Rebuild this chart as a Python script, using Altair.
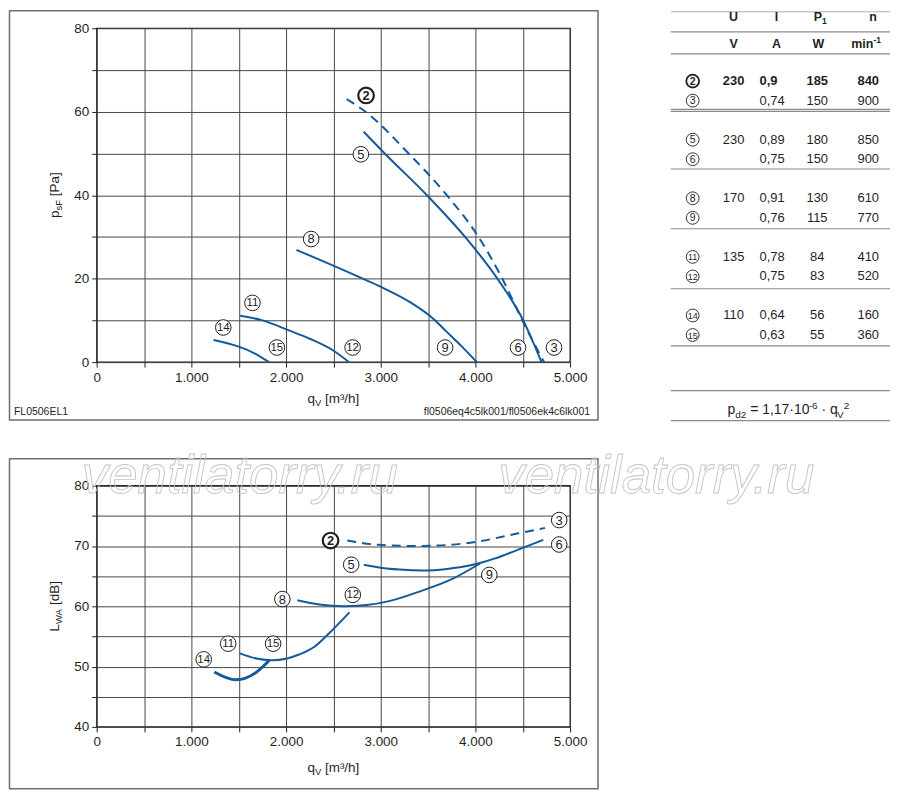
import altair as alt
import pandas as pd

FONT = "Liberation Sans"
BLUE = "#135a9b"
INK = "#1f1f1f"
GRIDC = "#474747"
BOXC = "#6f6f6f"
RULEC = "#8a8a8a"
WMARK = "#c4c4c4"

# ---------------- top panel: p_sF [Pa] vs q_V [m3/h] ----------------
top_2_q = [2640, 2839, 3295, 3698, 4032, 4284, 4495, 4725]
top_2_p = [63.0, 60.0, 50.0, 40.0, 30.0, 20.0, 10.0, 0.0]
top_5_q = [2820, 3042, 3488, 3891, 4232, 4505, 4698]
top_5_p = [55.2, 50.0, 40.0, 30.0, 20.0, 10.0, 0.0]
top_8_q = [2110, 2450, 2850, 3014, 3300, 3575, 3681, 3850, 4015]
top_8_p = [26.9, 23.6, 19.6, 17.9, 14.5, 10.0, 7.6, 3.9, 0.0]
top_11_q = [1515, 1751, 2030, 2250, 2490, 2665]
top_11_p = [11.1, 10.0, 7.6, 5.6, 2.9, 0.0]
top_14_q = [1235, 1500, 1650, 1820]
top_14_p = [5.3, 3.7, 2.3, 0.0]

top_lab_txt = ["2", "5", "8", "11", "14", "15", "12", "9", "6", "3"]
top_lab_q = [2845, 2790, 2265, 1645, 1337, 1903, 2703, 3680, 4450, 4830]
top_lab_p = [63.9, 49.8, 29.5, 14.2, 8.3, 3.5, 3.5, 3.5, 3.5, 3.5]

# ---------------- bottom panel: L_WA [dB] vs q_V [m3/h] ----------------
bot_2_q = [2646, 2980, 3400, 3926, 4453, 4735]
bot_2_l = [70.9, 70.2, 70.0, 70.5, 72.1, 73.0]
bot_5_q = [2821, 3000, 3200, 3450, 3700, 3950, 4200, 4453, 4716]
bot_5_l = [66.9, 66.4, 66.1, 65.95, 66.2, 66.8, 67.9, 69.4, 71.0]
bot_8_q = [2119, 2350, 2600, 2850, 3100, 3400, 3751, 4049]
bot_8_l = [61.0, 60.3, 60.0, 60.2, 60.9, 62.4, 64.5, 67.1]
bot_11_q = [1512, 1700, 1856, 2000, 2137, 2300, 2453, 2670]
bot_11_l = [52.2, 51.3, 51.05, 51.3, 52.0, 53.3, 55.5, 59.0]
bot_14_q = [1242, 1470, 1681, 1821]
bot_14_l = [49.1, 47.8, 49.0, 51.0]

bot_lab_txt = ["2", "5", "8", "12", "11", "15", "14", "9", "3", "6"]
bot_lab_q = [2470, 2688, 1961, 2705, 1389, 1863, 1130, 4147, 4885, 4885]
bot_lab_l = [70.9, 66.9, 61.2, 61.9, 53.8, 53.8, 51.2, 65.2, 74.3, 70.25]

# ---------------- table ----------------
tab_id = ["2", "3", "5", "6", "8", "9", "11", "12", "14", "15"]
tab_U = ["230", "", "230", "", "170", "", "135", "", "110", ""]
tab_I = ["0,9", "0,74", "0,89", "0,75", "0,91", "0,76", "0,78", "0,75", "0,64", "0,63"]
tab_P = ["185", "150", "180", "150", "130", "115", "84", "83", "56", "55"]
tab_n = ["840", "900", "850", "900", "610", "770", "410", "520", "160", "360"]
tab_head = ["U", "I", "n"]
tab_unit = ["V", "A", "W"]

# table layout (column anchors in table units, row slots)
COLX = {"id": 22, "U": 63, "I": 89, "P": 147, "n": 209}
HEADX = {"U": 63, "I": 106, "n": 203, "V": 63, "A": 106, "W": 148}
H1, H2, FORM = -3.28, -1.90, 16.8
LINES = [-2.52, -1.39, 1.45, 1.55, 4.5, 7.56, 10.63, 13.56, 15.85, 17.38]
TOPLINE = -3.55

ONE = pd.DataFrame({"k": [0]})

AW = {" ": 278, ",": 278, ".": 278, "[": 278, "]": 278, "/": 278, "=": 584, "·": 278,
      "−": 584, "-": 333, "³": 333, "p": 556, "q": 556, "s": 500, "F": 611, "P": 667,
      "a": 556, "m": 833, "h": 556, "V": 667, "L": 556, "W": 944, "A": 667, "d": 556,
      "B": 667, "i": 222, "n": 556}
AWB = {"m": 889, "i": 278, "n": 611}


def tw(s, size, bold=False):
    tot = 0
    for ch in s:
        if bold and ch in AWB:
            tot += AWB[ch]
        else:
            tot += AW.get(ch, 556)
    return tot * size / 1000.0


def rich(pieces, enc, data=ONE, angle=0, bold=False, base_dy=0.0):
    total = sum(tw(t, s, bold) for t, s, _ in pieces)
    off = -total / 2
    out = []
    for t, s, sh in pieces:
        lead = len(t) - len(t.lstrip(" "))
        core = t.strip(" ")
        if core:
            kw = dict(text=core, font=FONT, fontSize=s, align="left", baseline="alphabetic",
                      dx=off + tw(" " * lead, s, bold), dy=sh + base_dy, color=INK,
                      fontWeight="bold" if bold else "normal")
            if angle:
                kw["angle"] = angle
            out.append(alt.Chart(data).mark_text(**kw).encode(**enc))
        off += tw(t, s, bold)
    return out


def curves_df(series):
    rows = []
    for cid, qs, vs in series:
        for i, (q, v) in enumerate(zip(qs, vs)):
            rows.append({"c": cid, "i": i, "q": q, "v": v})
    return pd.DataFrame(rows)


XLAB = "datum.value % 1000 == 0 ? replace(format(datum.value, ','), ',', '.') : ''"


def xenc():
    return alt.X("q:Q", scale=alt.Scale(domain=[0, 5000], nice=False, zero=False),
                 axis=alt.Axis(values=list(range(0, 5001, 500)), labelExpr=XLAB, title=None))


def yenc(lo, hi, step, lab):
    return alt.Y("v:Q", scale=alt.Scale(domain=[lo, hi], nice=False, zero=False),
                 axis=alt.Axis(values=list(range(lo, hi + 1, step)),
                               labelExpr="datum.value %% %d == 0 ? datum.label : ''" % lab,
                               title=None))


def line_layer(df, Y, dashed=False, width=2.0):
    kw = dict(interpolate="monotone", color=BLUE, strokeWidth=width)
    if dashed:
        kw["strokeDash"] = [9, 6]
    return alt.Chart(df).mark_line(**kw).encode(x=xenc(), y=Y, detail="c:N", order="i:Q")


def label_layers(txt, qs, vs, Y):
    df = pd.DataFrame({"t": txt, "q": qs, "v": vs})
    df["b"] = df["t"] == "2"
    df["two"] = df["t"].str.len() > 1
    base = alt.Chart(df)
    enc = dict(x=xenc(), y=Y)
    return [
        base.transform_filter("!datum.b").mark_point(
            shape="circle", size=245, filled=True, fill="white", stroke=INK,
            strokeWidth=1, opacity=1).encode(**enc),
        base.transform_filter("datum.b").mark_point(
            shape="circle", size=245, filled=True, fill="white", stroke=INK,
            strokeWidth=2.2, opacity=1).encode(**enc),
        base.transform_filter("!datum.b && !datum.two").mark_text(
            font=FONT, fontSize=13, color=INK, baseline="middle", dy=0.5).encode(text="t:N", **enc),
        base.transform_filter("datum.two").mark_text(
            font=FONT, fontSize=11.5, color=INK, baseline="middle", dy=0.5).encode(text="t:N", **enc),
        base.transform_filter("datum.b").mark_text(
            font=FONT, fontSize=13, fontWeight="bold", color=INK, baseline="middle",
            dy=0.5).encode(text="t:N", **enc),
    ]


def box_layer(x0, x1, y0, y1):
    return alt.Chart(ONE).mark_rect(fillOpacity=0, stroke=BOXC, strokeWidth=1.5,
                                    strokeJoin="round").encode(
        x=alt.value(x0), x2=alt.value(x1), y=alt.value(y0), y2=alt.value(y1))


def pix(x, y):
    return {"x": alt.value(x), "y": alt.value(y)}


# ---------------- top chart ----------------
YT = yenc(0, 80, 10, 20)
top_solid = curves_df([("5", top_5_q, top_5_p), ("8", top_8_q, top_8_p),
                       ("11", top_11_q, top_11_p), ("14", top_14_q, top_14_p)])
top_dash = curves_df([("2", top_2_q, top_2_p)])

top_layers = [box_layer(-87.5, 503, -17.5, 393),
              line_layer(top_solid, YT),
              line_layer(top_dash, YT, dashed=True)]
top_layers += label_layers(top_lab_txt, top_lab_q, top_lab_p, YT)
top_layers += rich([("q", 13.5, 0), ("V", 9.5, 3), (" [m³/h]", 13.5, 0)], pix(237.5, 376))
top_layers += rich([("p", 13.5, 0), ("sF", 9.5, 3), (" [Pa]", 13.5, 0)], pix(-38, 167.5), angle=270)
top_layers.append(alt.Chart(ONE).mark_text(text="FL0506EL1", font=FONT, fontSize=10.5, color=INK,
                                           align="left", baseline="alphabetic").encode(**pix(-83, 388)))
top_layers.append(alt.Chart(ONE).mark_text(text="fl0506eq4c5lk001/fl0506ek4c6lk001", font=FONT,
                                           fontSize=10.5, color=INK, align="right",
                                           baseline="alphabetic").encode(**pix(495, 388)))
top_plot = alt.layer(*top_layers)

# ---------------- table (layered beside the top plot) ----------------
TX = alt.X("tx:Q", scale=alt.Scale(domain=[0, 220], range=[576, 796], nice=False, zero=False), axis=None)
TY = alt.Y("slot:Q", scale=alt.Scale(domain=[0, 10], range=[53, 249], nice=False, zero=False), axis=None)
TENC = {"x": TX, "y": TY}

tab_df = pd.DataFrame({"id": tab_id, "U": tab_U, "I": tab_I, "P": tab_P, "n": tab_n})
tab_df["slot"] = [(r // 2) * 3 + r % 2 for r in range(len(tab_id))]
tab_df["b"] = tab_df["id"] == "2"
tab_df["two"] = tab_df["id"].str.len() > 1

lines_df = pd.DataFrame({"slot": LINES, "tx": 0, "tx2": 220})
table_layers = [
    alt.Chart(pd.DataFrame({"slot": [TOPLINE], "tx": [0], "tx2": [220]})).mark_rule(
        color="#b0b0b0", strokeWidth=1.2).encode(x=TX, x2="tx2:Q", y=TY),
    alt.Chart(lines_df).mark_rule(color=RULEC, strokeWidth=1.2).encode(x=TX, x2="tx2:Q", y=TY),
]
tb = alt.Chart(tab_df)
table_layers += [
    tb.transform_calculate(tx=str(COLX["id"])).transform_filter("!datum.b").mark_point(
        shape="circle", size=165, filled=True, fill="white", stroke=INK, strokeWidth=0.9,
        opacity=1).encode(**TENC),
    tb.transform_calculate(tx=str(COLX["id"])).transform_filter("datum.b").mark_point(
        shape="circle", size=165, filled=True, fill="white", stroke=INK, strokeWidth=1.8,
        opacity=1).encode(**TENC),
    tb.transform_calculate(tx=str(COLX["id"])).transform_filter("!datum.two && !datum.b").mark_text(
        font=FONT, fontSize=10.5, color=INK, baseline="middle", dy=0.5).encode(
        text="id:N", **TENC),
    tb.transform_calculate(tx=str(COLX["id"])).transform_filter("datum.b").mark_text(
        font=FONT, fontSize=10.5, fontWeight="bold", color=INK, baseline="middle", dy=0.5).encode(
        text="id:N", **TENC),
    tb.transform_calculate(tx=str(COLX["id"])).transform_filter("datum.two").mark_text(
        font=FONT, fontSize=9, color=INK, baseline="middle", dy=0.5).encode(
        text="id:N", **TENC),
]
for col, al in [("U", "center"), ("I", "left"), ("P", "center"), ("n", "right")]:
    for bold in (False, True):
        table_layers.append(
            tb.transform_calculate(tx=str(COLX[col])).transform_filter(
                "datum.b" if bold else "!datum.b").mark_text(
                font=FONT, fontSize=13, color=INK, align=al, baseline="middle",
                fontWeight="bold" if bold else "normal").encode(text=col + ":N", **TENC))

head_df = pd.DataFrame({"t": tab_head + tab_unit,
                        "tx": [HEADX[k] for k in tab_head + tab_unit],
                        "slot": [H1] * len(tab_head) + [H2] * len(tab_unit)})
table_layers.append(alt.Chart(head_df).mark_text(
    font=FONT, fontSize=12.5, fontWeight="bold", color=INK, baseline="middle").encode(
    text="t:N", **TENC))
table_layers += rich([("P", 12.5, 0), ("1", 8.5, 3)], TENC,
                     data=pd.DataFrame({"tx": [150], "slot": [H1]}), bold=True, base_dy=4.5)
table_layers += rich([("min", 12.5, 0), ("-1", 8.5, -5)], TENC,
                     data=pd.DataFrame({"tx": [196], "slot": [H2]}), bold=True, base_dy=4.5)
table_layers += rich([("p", 14, 0), ("d2", 10, 3.5), (" = 1,17·10", 14, 0), ("-6", 10, -5.5),
                      (" · q", 14, 0), ("V", 10, 3.5), ("2", 10, -5.5)], TENC,
                     data=pd.DataFrame({"tx": [118], "slot": [FORM]}), base_dy=5)
table = alt.layer(*table_layers)

top = alt.layer(top_plot, table).resolve_scale(x="independent", y="independent").properties(
    width=475, height=335)

# ---------------- bottom chart ----------------
YB = yenc(40, 80, 5, 10)
bot_solid = curves_df([("5", bot_5_q, bot_5_l), ("8", bot_8_q, bot_8_l), ("11", bot_11_q, bot_11_l)])
bot_thick = curves_df([("14", bot_14_q, bot_14_l)])
bot_dash = curves_df([("2", bot_2_q, bot_2_l)])

bot_layers = [box_layer(-87.5, 503, -27, 304),
              line_layer(bot_solid, YB),
              line_layer(bot_thick, YB, width=3),
              line_layer(bot_dash, YB, dashed=True)]
bot_layers += label_layers(bot_lab_txt, bot_lab_q, bot_lab_l, YB)
bot_layers += rich([("q", 13.5, 0), ("V", 9.5, 3), (" [m³/h]", 13.5, 0)], pix(237.5, 287))
bot_layers += rich([("L", 13.5, 0), ("WA", 9.5, 3), (" [dB]", 13.5, 0)], pix(-38, 121), angle=270)
for wx in (-15, 403):
    bot_layers.append(alt.Chart(ONE).mark_text(
        text="ventilatorry.ru", font=FONT, fontSize=53, fontStyle="italic", fillOpacity=0,
        stroke=WMARK, strokeWidth=0.9, align="left", baseline="alphabetic").encode(**pix(wx, 7)))
bottom = alt.layer(*bot_layers).properties(width=475, height=242)

chart = alt.vconcat(top, bottom, spacing=124, bounds="flush").properties(
    padding=0, background="white"
).configure_view(stroke=INK, strokeWidth=1.4).configure_axis(
    gridColor=GRIDC, gridWidth=1, gridOpacity=1, domain=False, tickColor=INK, tickSize=5,
    tickWidth=1, labelFont=FONT, labelFontSize=13.5, labelColor=INK, labelPadding=3,
    labelFlush=False, labelOverlap=False)

chart.save("out.html", embed_options={"renderer": "svg", "actions": False})
